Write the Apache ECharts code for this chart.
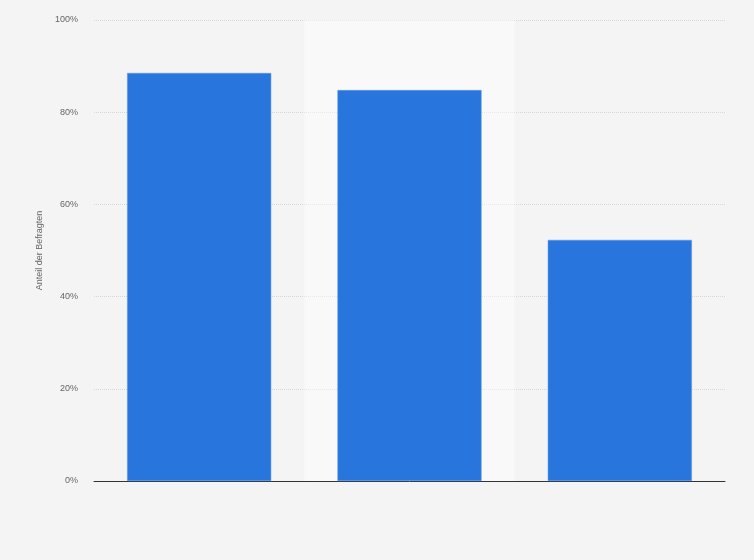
<!DOCTYPE html>
<html>
<head>
<meta charset="utf-8">
<script src="https://cdn.jsdelivr.net/npm/echarts@6/dist/echarts.min.js"></script>
<style>
  html, body { margin: 0; padding: 0; background: #f4f4f4; }
  #chart { width: 754px; height: 560px; }
</style>
</head>
<body>
<div id="chart"></div>
<script>
// categories have no visible labels in the source
var categories = ['Kategorie 1', 'Kategorie 2', 'Kategorie 3'];
var shares = [88.5, 84.8, 52.3];
var yTicks = [0, 20, 40, 60, 80, 100];

var chart = echarts.init(document.getElementById('chart'));

var option = {
  backgroundColor: '#f4f4f4',
  grid: {
    left: 94,
    right: 29,
    top: 20,
    bottom: 79
  },
  xAxis: {
    type: 'category',
    data: categories,
    z: 1,
    axisLine: { lineStyle: { color: '#333', width: 1 } },
    axisTick: { show: false },
    axisLabel: { show: false },
    splitArea: {
      show: true,
      areaStyle: { color: ['rgba(255,255,255,0)', 'rgba(255,255,255,0.45)', 'rgba(255,255,255,0)'] }
    }
  },
  yAxis: {
    type: 'value',
    min: yTicks[0],
    max: yTicks[yTicks.length - 1],
    interval: 20,
    z: 0,
    name: 'Anteil der Befragten',
    nameLocation: 'middle',
    nameGap: 50,
    nameTextStyle: { color: '#666', fontSize: 9, fontFamily: 'Liberation Sans' },
    axisLine: { show: false },
    axisTick: { show: false },
    axisLabel: {
      color: '#666',
      fontSize: 9,
      fontFamily: 'Liberation Sans',
      margin: 16,
      formatter: '{value}%'
    },
    splitLine: {
      lineStyle: { color: '#d8d8d8', type: 'dotted', width: 1 }
    }
  },
  series: [{
    type: 'bar',
    data: shares,
    barWidth: '68.5%',
    itemStyle: {
      color: '#2876dd',
      borderColor: '#5a95e6',
      borderWidth: 0.5
    },
    z: 2
  }]
};

chart.setOption(option);
</script>
</body>
</html>
